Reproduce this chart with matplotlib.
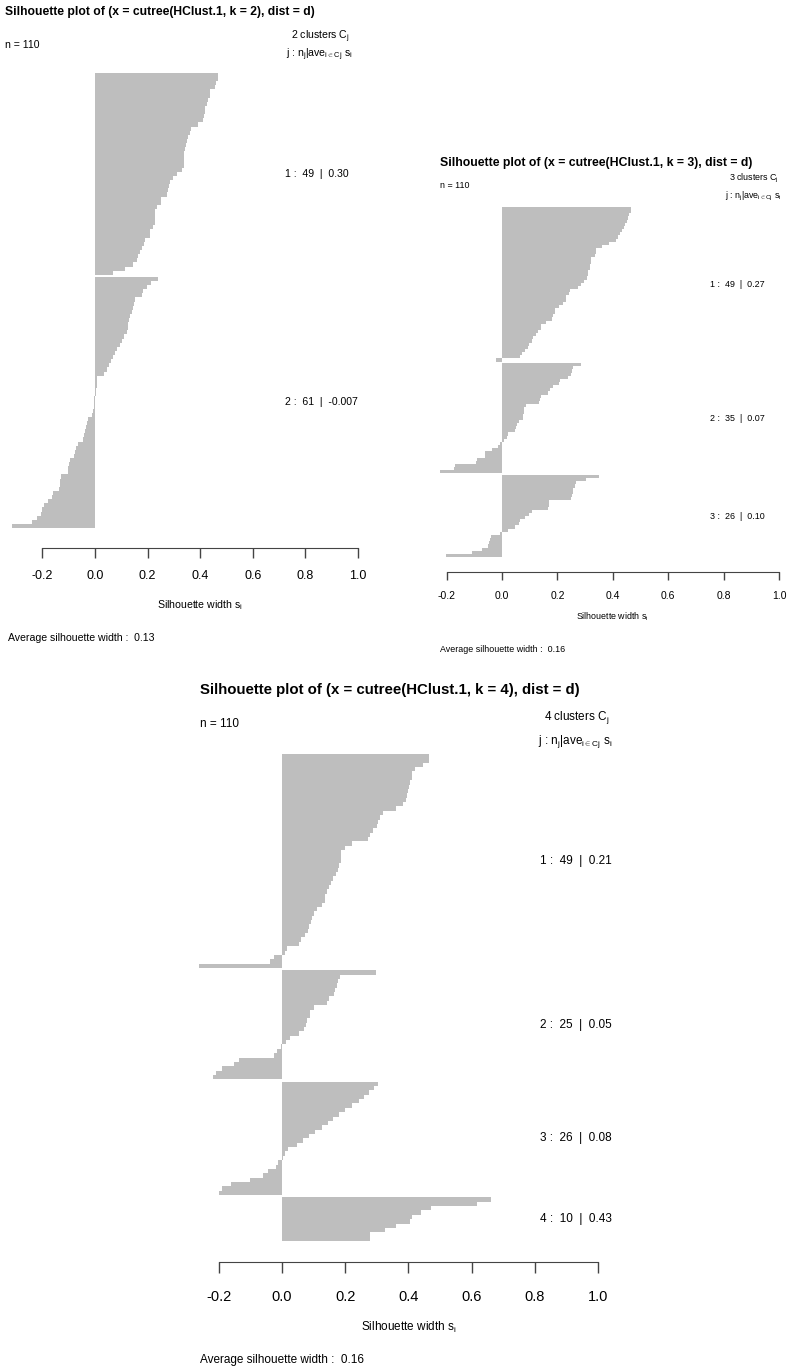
import matplotlib
matplotlib.use("Agg")
import matplotlib.pyplot as plt
import numpy as np

plt.rcParams['font.family'] = ['Liberation Sans', 'DejaVu Sans']
plt.rcParams['mathtext.fontset'] = 'custom'
plt.rcParams['mathtext.rm'] = 'Liberation Sans'
plt.rcParams['mathtext.it'] = 'Liberation Sans'
plt.rcParams['mathtext.bf'] = 'Liberation Sans:bold'

# ---- silhouette widths, sorted within each cluster ----
k2_c1 = [0.467, 0.467, 0.46, 0.455, 0.438, 0.437, 0.43, 0.425, 0.42, 0.42, 0.415,
         0.41, 0.39, 0.365, 0.36, 0.355, 0.35, 0.345, 0.342, 0.34, 0.34, 0.338,
         0.337, 0.33, 0.31, 0.295, 0.285, 0.283, 0.278, 0.272, 0.25, 0.25, 0.235,
         0.23, 0.229, 0.228, 0.227, 0.22, 0.21, 0.21, 0.19, 0.185, 0.178, 0.17,
         0.165, 0.16, 0.143, 0.114, 0.067]
k2_c2 = [0.238, 0.212, 0.196, 0.182, 0.18, 0.152, 0.147, 0.145, 0.14, 0.134, 0.128,
         0.127, 0.126, 0.12, 0.11, 0.103, 0.095, 0.085, 0.077, 0.07, 0.062, 0.054,
         0.044, 0.034, 0.008, 0.007, 0.006, 0.005, 0.002, -0.003, -0.004, -0.005,
         -0.006, -0.01, -0.025, -0.032, -0.036, -0.038, -0.043, -0.045, -0.063,
         -0.072, -0.075, -0.078, -0.095, -0.1, -0.101, -0.103, -0.13, -0.132,
         -0.134, -0.136, -0.158, -0.163, -0.177, -0.193, -0.203, -0.207, -0.222,
         -0.238, -0.314]

k3_c1 = [0.467, 0.465, 0.46, 0.455, 0.45, 0.445, 0.44, 0.432, 0.425, 0.418, 0.412,
         0.388, 0.362, 0.34, 0.338, 0.336, 0.322, 0.32, 0.319, 0.318, 0.312, 0.31,
         0.308, 0.296, 0.287, 0.275, 0.244, 0.242, 0.232, 0.23, 0.22, 0.206, 0.193,
         0.19, 0.183, 0.181, 0.158, 0.142, 0.139, 0.13, 0.122, 0.112, 0.108, 0.097,
         0.093, 0.083, 0.074, 0.065, -0.022]
k3_c2 = [0.287, 0.256, 0.254, 0.25, 0.24, 0.208, 0.205, 0.185, 0.175, 0.167, 0.142,
         0.138, 0.135, 0.086, 0.08, 0.078, 0.077, 0.075, 0.062, 0.055, 0.052, 0.047,
         0.023, 0.019, 0.007, -0.007, -0.016, -0.037, -0.06, -0.062, -0.09, -0.095,
         -0.17, -0.175, -0.223]
k3_c3 = [0.351, 0.303, 0.268, 0.263, 0.258, 0.255, 0.252, 0.249, 0.17, 0.168, 0.166,
         0.108, 0.096, 0.082, 0.066, 0.062, 0.046, 0.022, -0.008, -0.04, -0.044,
         -0.048, -0.05, -0.074, -0.107, -0.203]

k4_c1 = [0.466, 0.465, 0.445, 0.421, 0.412, 0.41, 0.405, 0.403, 0.4, 0.394, 0.392,
         0.382, 0.361, 0.319, 0.31, 0.305, 0.3, 0.287, 0.278, 0.271, 0.22, 0.2,
         0.188, 0.187, 0.186, 0.18, 0.176, 0.17, 0.162, 0.155, 0.149, 0.143, 0.137,
         0.135, 0.128, 0.11, 0.102, 0.096, 0.091, 0.086, 0.081, 0.073, 0.06, 0.054,
         0.015, 0.01, -0.025, -0.038, -0.263]
k4_c2 = [0.298, 0.182, 0.176, 0.174, 0.168, 0.166, 0.148, 0.142, 0.1, 0.09, 0.088,
         0.08, 0.077, 0.07, 0.054, 0.025, 0.014, -0.004, -0.015, -0.025, -0.135,
         -0.152, -0.189, -0.209, -0.217]
k4_c3 = [0.305, 0.29, 0.275, 0.26, 0.245, 0.22, 0.2, 0.18, 0.16, 0.145, 0.125,
         0.104, 0.086, 0.065, 0.046, 0.02, 0.01, 0.004, -0.012, -0.02, -0.043,
         -0.06, -0.1, -0.16, -0.19, -0.2]
k4_c4 = [0.66, 0.618, 0.47, 0.439, 0.41, 0.405, 0.36, 0.326, 0.28, 0.278]

k2_ave = ['0.30', '-0.007']
k3_ave = ['0.27', '0.07', '0.10']
k4_ave = ['0.21', '0.05', '0.08', '0.43']
avg_width = {2: '0.13', 3: '0.16', 4: '0.16'}
ticks = [-0.2, 0.0, 0.2, 0.4, 0.6, 0.8, 1.0]

W, H = 797, 1370
fig = plt.figure(figsize=(W / 100, H / 100), dpi=100)


def fx(x):
    return x / W


def fy(y):
    return 1 - y / H


def silhouette_panel(k, clusters, aves, lay):
    # bar slots: one per observation, half a slot of space between clusters
    ypos, vals, mids = [], [], []
    pos = 0.0
    for c in clusters:
        start = pos
        for v in c:
            ypos.append(pos + 0.5)
            vals.append(v)
            pos += 1
        mids.append((start + pos) / 2)
        pos += 0.5
    total = pos - 0.5

    x0, sc = lay['zero'], lay['scale']
    xa, xb = -0.38, 1.08
    left = x0 + xa * sc
    width = (xb - xa) * sc
    ax = fig.add_axes([fx(left), fy(lay['bot']), width / W, (lay['bot'] - lay['top']) / H])
    ax.barh(ypos, vals, height=1.0, color='#bebebe', linewidth=0, antialiased=False)
    ax.set_xlim(xa, xb)
    ax.set_ylim(total, 0)
    for s in ['top', 'right', 'left']:
        ax.spines[s].set_visible(False)
    ax.spines['bottom'].set_position(('outward', lay['axoff'] * 0.72))
    ax.spines['bottom'].set_bounds(-0.2, 1.0)
    ax.spines['bottom'].set_color('#444444')
    ax.set_yticks([])
    ax.set_xticks(ticks)
    ax.set_xticklabels(['%.1f' % t for t in ticks], fontsize=lay['fs'])
    ax.tick_params(axis='x', length=lay['ticklen'], width=1, color='#444444', pad=lay['pad'])

    ts = lay['ts']
    fig.text(fx(lay['left']), fy(lay['title_y']),
             'Silhouette plot of (x = cutree(HClust.1, k = %d), dist = d)' % k,
             fontsize=lay['tfs'], fontweight='bold', va='center', ha='left')
    fig.text(fx(lay['left']), fy(lay['n_y']), 'n = 110', fontsize=ts,
             va='center', ha='left')
    fig.text(fx(lay['hdr_x']), fy(lay['hdr_y1']), r'%d clusters $\mathrm{C_j}$' % k,
             fontsize=ts, va='center', ha='right')
    fig.text(fx(lay['hdr_x'] + 3), fy(lay['hdr_y2']),
             r'j : $\mathrm{n_j}$|$\mathrm{ave_{i\in Cj}}$ $\mathrm{s_i}$',
             fontsize=ts, va='center', ha='right')
    for j, (c, a, m) in enumerate(zip(clusters, aves, mids)):
        yy = lay['top'] + m / total * (lay['bot'] - lay['top'])
        fig.text(fx(lay['lab_x']), fy(yy), '%d :  %d  |  %s' % (j + 1, len(c), a),
                 fontsize=ts, va='center', ha='left')
    fig.text(fx(x0 + 0.4 * sc), fy(lay['xl_y']), r'Silhouette width $\mathrm{s_i}$',
             fontsize=ts, va='center', ha='center')
    fig.text(fx(lay['avg_x']), fy(lay['avg_y']),
             'Average silhouette width :  %s' % avg_width[k],
             fontsize=ts, va='center', ha='left')


silhouette_panel(2, [k2_c1, k2_c2], k2_ave,
                 dict(zero=95, scale=263, top=73, bot=528, axoff=20, ticklen=7, pad=9,
                      fs=9, ts=7.6, tfs=8.7, left=5, title_y=12, n_y=45, hdr_x=350,
                      hdr_y1=37, hdr_y2=55, lab_x=285, xl_y=605, avg_x=8, avg_y=638))
silhouette_panel(3, [k3_c1, k3_c2, k3_c3], k3_ave,
                 dict(zero=502, scale=277, top=207, bot=557, axoff=15, ticklen=6, pad=8,
                      fs=7.5, ts=6.4, tfs=8.8, left=440, title_y=163, n_y=186, hdr_x=779,
                      hdr_y1=178, hdr_y2=196, lab_x=710, xl_y=617, avg_x=440, avg_y=649))
silhouette_panel(4, [k4_c1, k4_c2, k4_c3, k4_c4], k4_ave,
                 dict(zero=282, scale=316, top=754, bot=1241, axoff=21, ticklen=8, pad=12,
                      fs=10.5, ts=8.5, tfs=10.8, left=200, title_y=690, n_y=724, hdr_x=609,
                      hdr_y1=718, hdr_y2=741, lab_x=540, xl_y=1327, avg_x=200, avg_y=1360))

fig.savefig('out.png', dpi=100)
